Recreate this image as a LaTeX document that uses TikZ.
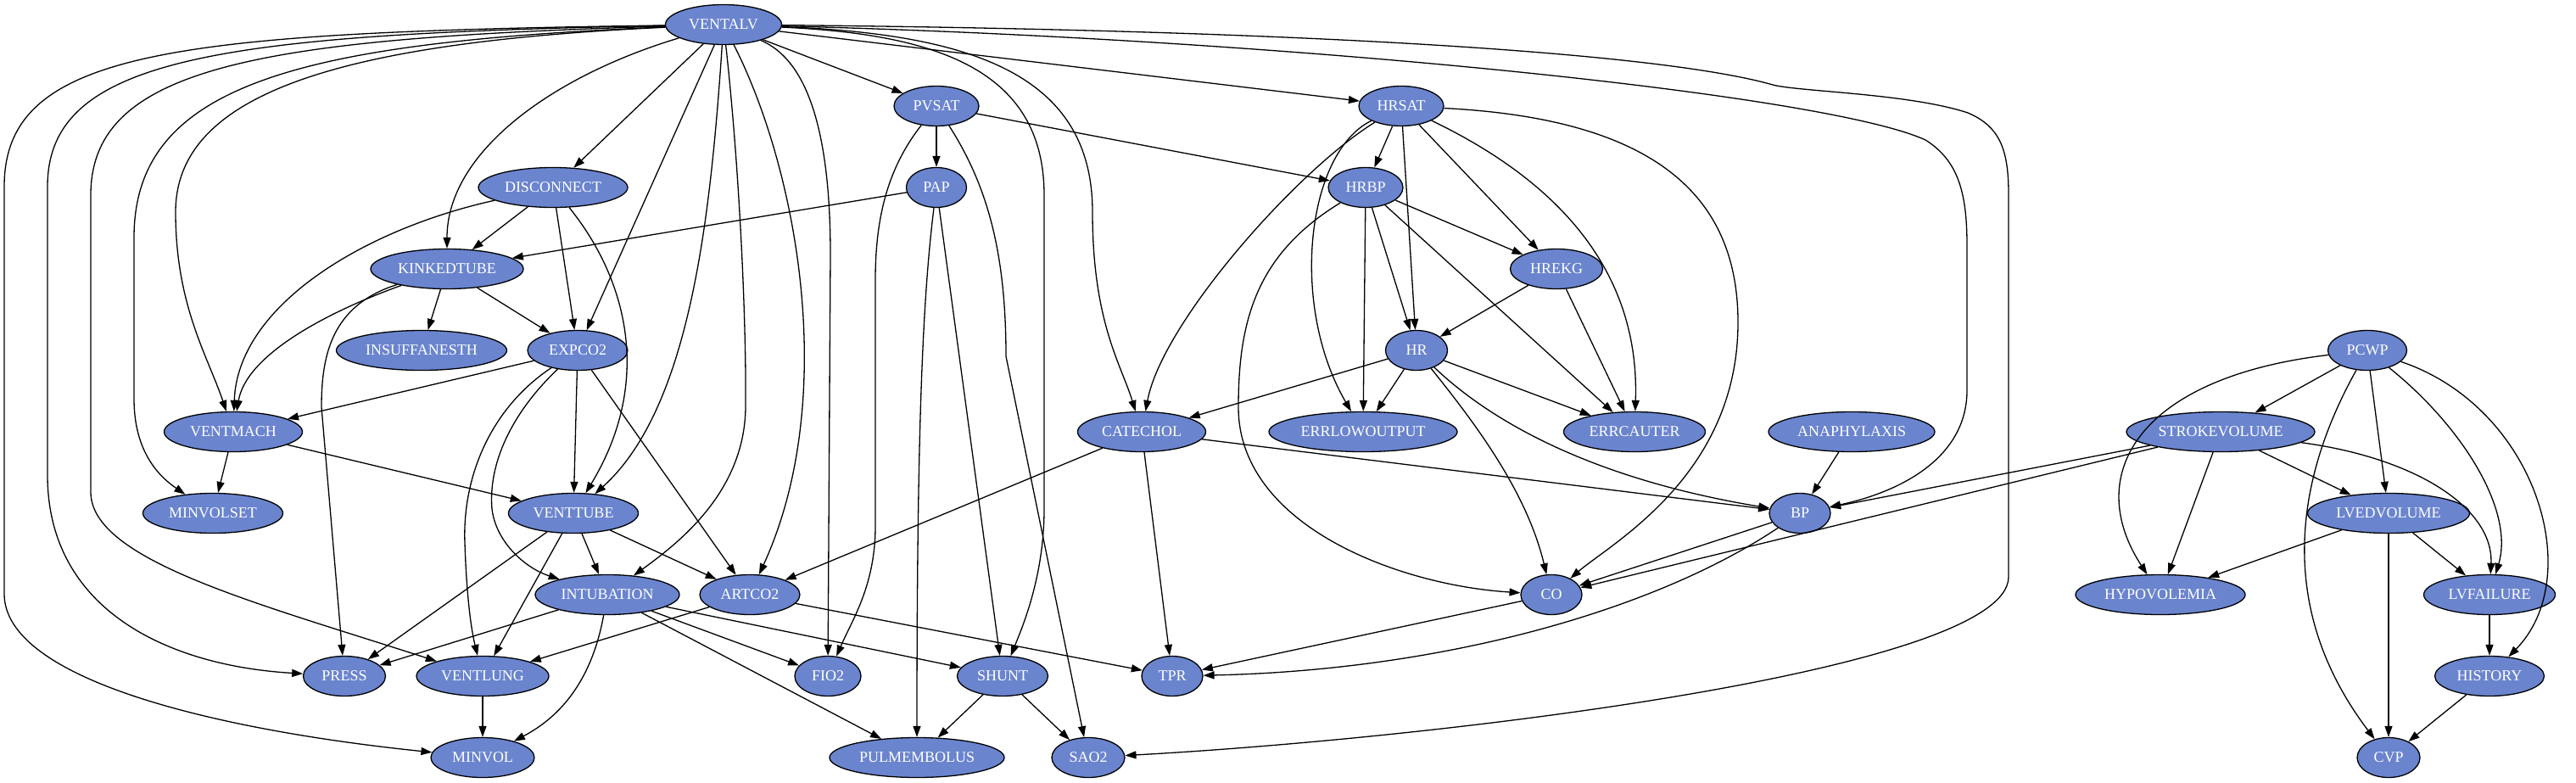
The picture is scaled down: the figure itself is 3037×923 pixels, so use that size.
\documentclass[tikz,border=0pt]{standalone}
\usepackage{fontspec}
\setmainfont{Liberation Serif}
\usetikzlibrary{shapes.geometric,arrows.meta}
\definecolor{nodeblue}{RGB}{106,132,206}
\begin{document}
\begin{tikzpicture}[x=1pt,y=-1pt,
  nd/.style={ellipse, draw=black, line width=1.3pt, fill=nodeblue, text=white,
    font=\fontsize{18}{20}\selectfont, minimum height=47pt, inner xsep=1pt, inner ysep=1pt},
  ed/.style={line width=1.3pt, -{Triangle[length=13pt,width=9pt]}}]
\useasboundingbox (0,0) rectangle (3037,923);
% nodes
\node[nd, minimum width=137pt] (VENTALV) at (853,29) {VENTALV};
\node[nd, minimum width=100pt] (PVSAT) at (1104,125) {PVSAT};
\node[nd, minimum width=100pt] (HRSAT) at (1652,125) {HRSAT};
\node[nd, minimum width=176pt] (DISCONNECT) at (652,221) {DISCONNECT};
\node[nd, minimum width=71pt] (PAP) at (1104,221) {PAP};
\node[nd, minimum width=88pt] (HRBP) at (1610,221) {HRBP};
\node[nd, minimum width=180pt] (KINKEDTUBE) at (527,317) {KINKEDTUBE};
\node[nd, minimum width=109pt] (HREKG) at (1835,317) {HREKG};
\node[nd, minimum width=201pt] (INSUFFANESTH) at (497,413) {INSUFFANESTH};
\node[nd, minimum width=118pt] (EXPCO2) at (681,413) {EXPCO2};
\node[nd, minimum width=73pt] (HR) at (1670,413) {HR};
\node[nd, minimum width=93pt] (PCWP) at (2791,413) {PCWP};
\node[nd, minimum width=163pt] (VENTMACH) at (275,509) {VENTMACH};
\node[nd, minimum width=151pt] (CATECHOL) at (1346,509) {CATECHOL};
\node[nd, minimum width=222pt] (ERRLOWOUTPUT) at (1607,509) {ERRLOWOUTPUT};
\node[nd, minimum width=167pt] (ERRCAUTER) at (1927,509) {ERRCAUTER};
\node[nd, minimum width=196pt] (ANAPHYLAXIS) at (2183,509) {ANAPHYLAXIS};
\node[nd, minimum width=222pt] (STROKEVOLUME) at (2618,509) {STROKEVOLUME};
\node[nd, minimum width=165pt] (MINVOLSET) at (251,605) {MINVOLSET};
\node[nd, minimum width=153pt] (VENTTUBE) at (676,605) {VENTTUBE};
\node[nd, minimum width=72pt] (BP) at (2122,605) {BP};
\node[nd, minimum width=191pt] (LVEDVOLUME) at (2816,605) {LVEDVOLUME};
\node[nd, minimum width=170pt] (INTUBATION) at (716,701) {INTUBATION};
\node[nd, minimum width=118pt] (ARTCO2) at (884,701) {ARTCO2};
\node[nd, minimum width=72pt] (CO) at (1829,701) {CO};
\node[nd, minimum width=200pt] (HYPOVOLEMIA) at (2547,701) {HYPOVOLEMIA};
\node[nd, minimum width=155pt] (LVFAILURE) at (2935,701) {LVFAILURE};
\node[nd, minimum width=97pt] (PRESS) at (406,797) {PRESS};
\node[nd, minimum width=156pt] (VENTLUNG) at (569,797) {VENTLUNG};
\node[nd, minimum width=78pt] (FIO2) at (976,797) {FIO2};
\node[nd, minimum width=107pt] (SHUNT) at (1182,797) {SHUNT};
\node[nd, minimum width=72pt] (TPR) at (1382,797) {TPR};
\node[nd, minimum width=129pt] (HISTORY) at (2935,797) {HISTORY};
\node[nd, minimum width=122pt] (MINVOL) at (569,893) {MINVOL};
\node[nd, minimum width=206pt] (PULMEMBOLUS) at (1081,893) {PULMEMBOLUS};
\node[nd, minimum width=86pt] (SAO2) at (1283,893) {SAO2};
\node[nd, minimum width=74pt] (CVP) at (2816,893) {CVP};
% VENTALV
\draw[ed] (VENTALV) -- (PVSAT);
\draw[ed] (VENTALV) -- (HRSAT);
\draw[ed] (VENTALV) -- (DISCONNECT);
\draw[ed] (VENTALV) .. controls (650,90) and (527,180) .. (KINKEDTUBE);
\draw[ed] (VENTALV) -- (EXPCO2);
\draw[ed] (VENTALV) .. controls (400,50) and (207,110) .. (207,250) .. controls (207,360) and (245,420) .. (VENTMACH);
\draw[ed] (VENTALV) .. controls (350,50) and (158,100) .. (158,280) -- (158,470) .. controls (158,530) and (185,560) .. (MINVOLSET);
\draw[ed] (VENTALV) .. controls (300,45) and (107,80) .. (107,230) -- (107,580) .. controls (107,660) and (300,710) .. (VENTLUNG);
\draw[ed] (VENTALV) .. controls (250,40) and (56,70) .. (56,220) -- (56,560) .. controls (56,720) and (200,785) .. (PRESS);
\draw[ed] (VENTALV) .. controls (200,38) and (5,60) .. (5,220) -- (5,700) .. controls (5,800) and (250,860) .. (MINVOL);
\draw[ed] (VENTALV) .. controls (838,250) and (815,480) .. (VENTTUBE);
\draw[ed] (VENTALV) .. controls (872,200) and (880,380) .. (879,480) .. controls (878,580) and (800,640) .. (INTUBATION);
\draw[ed] (VENTALV) .. controls (940,200) and (990,470) .. (ARTCO2);
\draw[ed] (VENTALV) .. controls (950,70) and (979,150) .. (979,300) -- (FIO2);
\draw[ed] (VENTALV) .. controls (1100,40) and (1231,80) .. (1231,230) -- (1231,600) .. controls (1231,680) and (1205,740) .. (SHUNT);
\draw[ed] (VENTALV) .. controls (1150,40) and (1288,90) .. (1288,250) .. controls (1288,380) and (1322,430) .. (CATECHOL);
\draw[ed] (VENTALV) .. controls (1500,45) and (2150,110) .. (2270,165) .. controls (2310,190) and (2319,230) .. (2319,290) -- (2319,460) .. controls (2319,540) and (2240,580) .. (BP);
\draw[ed] (VENTALV) .. controls (1500,35) and (1950,60) .. (2090,100) .. controls (2120,108) and (2250,110) .. (2320,133) .. controls (2360,150) and (2368,180) .. (2368,230) -- (2368,680) .. controls (2368,790) and (1700,870) .. (SAO2);
% PVSAT, PAP
\draw[ed] (PVSAT) -- (PAP);
\draw[ed] (PVSAT) -- (HRBP);
\draw[ed] (PVSAT) .. controls (1045,200) and (1032,260) .. (1032,330) -- (1032,620) .. controls (1032,690) and (1005,730) .. (FIO2);
\draw[ed] (PVSAT) .. controls (1165,220) and (1186,300) .. (1186,420) -- (SAO2);
\draw[ed] (PAP) -- (KINKEDTUBE);
\draw[ed] (PAP) .. controls (1088,350) and (1081,500) .. (PULMEMBOLUS);
\draw[ed] (PAP) -- (SHUNT);
% HRSAT
\draw[ed] (HRSAT) -- (HRBP);
\draw[ed] (HRSAT) -- (HR);
\draw[ed] (HRSAT) -- (HREKG);
\draw[ed] (HRSAT) .. controls (1850,220) and (1933,330) .. (ERRCAUTER);
\draw[ed] (HRSAT) .. controls (1950,140) and (2049,230) .. (2049,380) .. controls (2049,560) and (1900,640) .. (CO);
\draw[ed] (HRSAT) .. controls (1530,200) and (1370,380) .. (CATECHOL);
\draw[ed] (HRSAT) .. controls (1540,180) and (1520,360) .. (ERRLOWOUTPUT);
% HRBP, HREKG, HR
\draw[ed] (HRBP) -- (HREKG);
\draw[ed] (HRBP) -- (HR);
\draw[ed] (HRBP) -- (ERRLOWOUTPUT);
\draw[ed] (HRBP) -- (ERRCAUTER);
\draw[ed] (HRBP) .. controls (1480,300) and (1460,380) .. (1460,480) .. controls (1460,620) and (1650,690) .. (CO);
\draw[ed] (HREKG) -- (HR);
\draw[ed] (HREKG) -- (ERRCAUTER);
\draw[ed] (HR) -- (CATECHOL);
\draw[ed] (HR) -- (ERRLOWOUTPUT);
\draw[ed] (HR) -- (ERRCAUTER);
\draw[ed] (HR) .. controls (1740,500) and (1800,580) .. (CO);
\draw[ed] (HR) .. controls (1740,480) and (1850,560) .. (BP);
% CATECHOL, ANAPHYLAXIS
\draw[ed] (CATECHOL) -- (ARTCO2);
\draw[ed] (CATECHOL) -- (TPR);
\draw[ed] (CATECHOL) -- (BP);
\draw[ed] (ANAPHYLAXIS) -- (BP);
% STROKEVOLUME, PCWP
\draw[ed] (STROKEVOLUME) -- (BP);
\draw[ed] (STROKEVOLUME) -- (CO);
\draw[ed] (STROKEVOLUME) -- (HYPOVOLEMIA);
\draw[ed] (STROKEVOLUME) -- (LVEDVOLUME);
\draw[ed] (STROKEVOLUME) .. controls (2850,540) and (2940,600) .. (LVFAILURE);
\draw[ed] (PCWP) -- (STROKEVOLUME);
\draw[ed] (PCWP) .. controls (2520,445) and (2455,560) .. (HYPOVOLEMIA);
\draw[ed] (PCWP) .. controls (2720,540) and (2670,700) .. (CVP);
\draw[ed] (PCWP) -- (LVEDVOLUME);
\draw[ed] (PCWP) .. controls (2900,500) and (2965,600) .. (LVFAILURE);
\draw[ed] (PCWP) .. controls (2990,480) and (3050,680) .. (HISTORY);
\draw[ed] (LVEDVOLUME) -- (HYPOVOLEMIA);
\draw[ed] (LVEDVOLUME) -- (LVFAILURE);
\draw[ed] (LVEDVOLUME) -- (CVP);
\draw[ed] (LVFAILURE) -- (HISTORY);
\draw[ed] (HISTORY) -- (CVP);
\draw[ed] (BP) -- (CO);
\draw[ed] (BP) .. controls (1950,720) and (1700,790) .. (TPR);
\draw[ed] (CO) -- (TPR);
% DISCONNECT, KINKEDTUBE
\draw[ed] (DISCONNECT) -- (KINKEDTUBE);
\draw[ed] (DISCONNECT) -- (EXPCO2);
\draw[ed] (DISCONNECT) .. controls (430,270) and (280,360) .. (VENTMACH);
\draw[ed] (DISCONNECT) .. controls (740,330) and (770,450) .. (VENTTUBE);
\draw[ed] (KINKEDTUBE) -- (INSUFFANESTH);
\draw[ed] (KINKEDTUBE) -- (EXPCO2);
\draw[ed] (KINKEDTUBE) .. controls (380,370) and (290,420) .. (VENTMACH);
\draw[ed] (KINKEDTUBE) .. controls (390,360) and (379,420) .. (379,480) -- (PRESS);
% EXPCO2
\draw[ed] (EXPCO2) -- (VENTMACH);
\draw[ed] (EXPCO2) -- (VENTTUBE);
\draw[ed] (EXPCO2) -- (ARTCO2);
\draw[ed] (EXPCO2) .. controls (580,480) and (545,560) .. (548,640) .. controls (550,700) and (555,740) .. (VENTLUNG);
\draw[ed] (EXPCO2) .. controls (610,480) and (575,540) .. (580,600) .. controls (585,640) and (620,670) .. (INTUBATION);
% VENTMACH, VENTTUBE
\draw[ed] (VENTMACH) -- (MINVOLSET);
\draw[ed] (VENTMACH) -- (VENTTUBE);
\draw[ed] (VENTTUBE) -- (PRESS);
\draw[ed] (VENTTUBE) -- (VENTLUNG);
\draw[ed] (VENTTUBE) -- (INTUBATION);
\draw[ed] (VENTTUBE) -- (ARTCO2);
% INTUBATION, ARTCO2
\draw[ed] (INTUBATION) -- (PRESS);
\draw[ed] (INTUBATION) -- (FIO2);
\draw[ed] (INTUBATION) -- (SHUNT);
\draw[ed] (INTUBATION) -- (PULMEMBOLUS);
\draw[ed] (INTUBATION) .. controls (700,790) and (670,840) .. (MINVOL);
\draw[ed] (ARTCO2) -- (VENTLUNG);
\draw[ed] (ARTCO2) -- (TPR);
\draw[ed] (VENTLUNG) -- (MINVOL);
\draw[ed] (SHUNT) -- (PULMEMBOLUS);
\draw[ed] (SHUNT) -- (SAO2);
\end{tikzpicture}
\end{document}
